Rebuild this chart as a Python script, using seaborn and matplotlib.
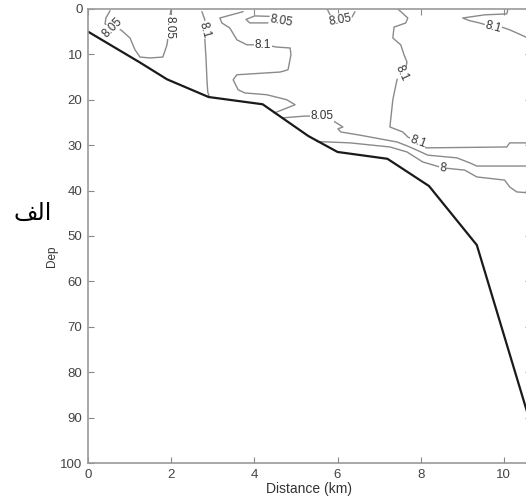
import numpy as np
import pandas as pd
import matplotlib
matplotlib.use("Agg")
import matplotlib.pyplot as plt
import seaborn as sns

# bottom profile (distance km, depth m)
bottom_km = [0, 1.25, 1.9, 2.9, 4.2, 5.3, 6.0, 7.2, 8.2, 9.35, 10.6]
bottom_m = [5, 11.8, 15.5, 19.4, 21.0, 28.0, 31.5, 33.0, 39.0, 52.0, 90.0]

# contour lines
c805_a_km = [0.53, 0.43, 0.41, 0.58, 0.79, 1.01, 1.13, 1.25, 1.49, 1.80, 1.90, 1.92, 1.97, 2.0]
c805_a_m = [0.4, 2.0, 3.3, 4.2, 4.6, 6.4, 9.0, 10.6, 10.8, 10.6, 7.9, 6.4, 1.5, 0]

c81_b_km = [2.74, 2.81, 2.81, 2.81, 2.84, 2.86, 2.88, 2.91]
c81_b_m = [0.6, 2.4, 4.6, 6.8, 11.2, 15.6, 18.3, 19.2]

c81_c_km = [3.73, 3.17, 3.22, 3.41, 3.58, 3.82, 4.21, 4.54, 4.86, 4.88, 4.81, 4.62,
            3.58, 3.49, 3.61, 3.77, 4.30, 4.78, 4.98, 4.54, 4.47]
c81_c_m = [0.6, 2.0, 3.1, 4.2, 6.8, 7.9, 7.9, 8.4, 8.6, 10.1, 13.4, 13.9,
           14.5, 15.6, 17.8, 18.5, 18.9, 20.0, 21.1, 22.7, 22.9]

c805_d_km = [4.40, 4.01, 3.80, 3.89, 4.38, 4.64]
c805_d_m = [1.65, 1.54, 2.31, 3.08, 3.08, 2.6]

c805_e_km = [5.75, 5.87, 6.06, 6.35, 6.42]
c805_e_m = [0, 2.2, 2.4, 1.76, 0.6]

c81_f_km = [7.45, 7.69, 7.64, 7.36, 7.33, 7.52, 7.60, 7.67, 7.64, 7.55, 7.43, 7.33,
            7.26, 7.57, 7.69, 7.93, 8.13, 10.07, 10.14, 10.6]
c81_f_m = [0, 2.0, 3.1, 4.0, 6.4, 7.9, 10.1, 11.7, 13.0, 14.1, 15.6, 20.0,
           26.0, 27.1, 28.2, 29.3, 30.6, 30.4, 29.5, 29.5]

c81_g_km = [10.10, 10.07, 9.54, 9.01, 9.18, 9.42, 9.74, 9.95, 10.14, 10.53, 10.6]
c81_g_m = [0, 1.1, 1.3, 2.0, 2.6, 3.1, 4.0, 4.0, 4.6, 6.2, 6.8]

c805_i_km = [4.68, 4.93, 5.22, 5.63, 5.94, 6.13, 6.01, 6.08, 6.54, 7.43, 7.74, 8.17,
             8.87, 9.18, 9.35, 10.6]
c805_i_m = [24.0, 23.8, 23.6, 23.6, 24.9, 26.0, 26.4, 27.1, 27.8, 29.3, 30.4, 32.2,
            32.8, 33.9, 34.6, 34.6]

c8_j_km = [5.50, 6.30, 7.26, 7.67, 8.05, 8.53, 9.06, 9.35, 10.02, 10.14, 10.31, 10.6]
c8_j_m = [29.2, 29.5, 30.4, 31.5, 33.7, 35.0, 35.5, 37.0, 37.7, 39.2, 40.3, 40.5]

contours = [
    (c805_a_km, c805_a_m), (c81_b_km, c81_b_m), (c81_c_km, c81_c_m),
    (c805_d_km, c805_d_m), (c805_e_km, c805_e_m), (c81_f_km, c81_f_m),
    (c81_g_km, c81_g_m), (c805_i_km, c805_i_m), (c8_j_km, c8_j_m),
]

# label text, km, m, rotation
labels = [
    ("8.05", 0.58, 4.2, 45), ("8.05", 1.97, 4.0, -90), ("8.1", 2.81, 4.6, -75),
    ("8.05", 4.64, 2.6, -10), ("8.1", 4.21, 7.9, 0), ("8.05", 6.06, 2.4, 10),
    ("8.1", 7.55, 14.1, -65), ("8.1", 7.93, 29.3, -20), ("8.1", 9.74, 4.0, -15),
    ("8.05", 5.63, 23.6, 0), ("8", 8.53, 35.0, -5),
]

xticks = [0, 2, 4, 6, 8, 10]
yticks = [0, 10, 20, 30, 40, 50, 60, 70, 80, 90, 100]

sns.set_style("ticks")
plt.rcParams['font.family'] = ['Liberation Sans', 'DejaVu Sans']

fig = plt.figure(figsize=(5.26, 5.04), dpi=100)
ax = fig.add_axes([0.1673, 0.0813, 0.842, 0.901])

for km, m in contours:
    sns.lineplot(x=km, y=m, sort=False, estimator=None, color="#8a8a8a",
                 linewidth=1.0, ax=ax)

sns.lineplot(x=bottom_km, y=bottom_m, sort=False, estimator=None, color="#1a1a1a",
             linewidth=1.6, ax=ax)

for txt, x, y, rot in labels:
    ax.text(x, y, txt, fontsize=8.5, color="#333333", rotation=rot,
            ha="center", va="center", rotation_mode="anchor",
            bbox=dict(facecolor="white", edgecolor="none", pad=0.3))

ax.set_xlim(0, 10.65)
ax.set_ylim(100, 0)
ax.set_xticks(xticks)
ax.set_yticks(yticks)
ax.tick_params(direction="in", length=4, width=0.8, color="#888888",
               labelcolor="#444444", labelsize=9.5, top=True, right=True, pad=4)
for s in ax.spines.values():
    s.set_color("#999999")
    s.set_linewidth(1.2)

ax.set_xlabel("Distance (km)", fontsize=10, color="#333333", labelpad=1)
ax.set_ylabel("Dep", fontsize=8.5, color="#333333")
ax.yaxis.set_label_coords(-0.068, 0.455)

# Arabic caption "الف" (written in visual order with joined forms)
fig.text(0.063, 0.578, "\ufed2\ufedf\u0627", fontsize=17, color="black",
         family=["DejaVu Sans"], ha="center", va="center")

fig.savefig("out.png", dpi=100)
